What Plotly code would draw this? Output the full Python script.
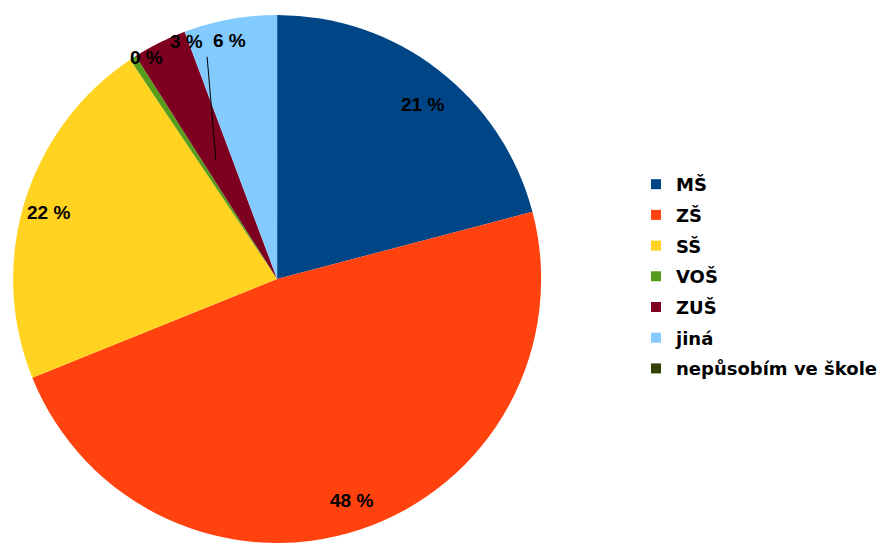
import math
import plotly.graph_objects as go

categories = ["MŠ", "ZŠ", "SŠ", "VOŠ", "ZUŠ", "jiná", "nepůsobím ve škole"]
values = [20.9, 48.0, 21.7, 0.4, 3.3, 5.7, 0.0]
colors = ["#004586", "#ff420e", "#ffd320", "#579d1c", "#7e0021", "#83caff", "#314004"]
pct_labels = ["21 %", "48 %", "22 %", "0 %", "3 %", "6 %", ""]

# label placement style: (radius factor, angle offset in degrees)
label_style = [(0.87, 3.0), (0.89, -1.0), (0.90, -0.8), (0.97, 2.8), (0.96, 6.0), (0.92, -0.4), (0.9, 0)]

W, H = 883, 543
ML, MR, MT, MB = 0, 0, 15, 0
PH = H - MT - MB
cx_px = 277
pie_center_px = cx_px + 3  # compensate renderer offset of pie centre
dom_w = 2 * pie_center_px / W
R = PH / 2
cy_px = MT + R

LABEL_FONT = "Liberation Sans, Arial"


def to_paper(px, py):
    return px / W, (H - MB - py) / PH


def polar(angle_deg, rf):
    a = math.radians(angle_deg)
    return cx_px + rf * R * math.sin(a), cy_px - rf * R * math.cos(a)


fig = go.Figure()
fig.add_trace(go.Pie(
    labels=categories, values=values, sort=False, direction="clockwise", rotation=0,
    marker=dict(colors=colors, line=dict(width=0)),
    textinfo="none", hoverinfo="label+percent", showlegend=False,
    domain=dict(x=[0, dom_w], y=[0, 1]),
))

total = sum(values)
cum = 0.0
mids = []
for v in values:
    mids.append((cum + v / 2) / total * 360)
    cum += v

for lab, mid, (rf, off) in zip(pct_labels, mids, label_style):
    if not lab:
        continue
    px, py = polar(mid + off, rf)
    x, y = to_paper(px, py)
    fig.add_annotation(x=x, y=y, xref="paper", yref="paper", text=lab, showarrow=False,
                       font=dict(family=LABEL_FONT, size=19, color="#000000", weight="bold"),
                       xanchor="center", yanchor="middle")

# leader line for ZUŠ label
zus = categories.index("ZUŠ")
x0p, y0p = polar(mids[zus] + 9.5, 0.88)
x1p, y1p = polar(mids[zus], 0.50)
x0, y0 = to_paper(x0p, y0p)
x1, y1 = to_paper(x1p, y1p)
fig.add_shape(type="line", xref="paper", yref="paper", x0=x0, y0=y0, x1=x1, y1=y1,
              line=dict(color="#000000", width=1))

# legend entries
for i, (c, col) in enumerate(zip(categories, colors)):
    fig.add_trace(go.Scatter(x=[None], y=[None], mode="markers", name=c, legendgroup=f"g{i}",
                             marker=dict(symbol="square", size=10, color=col)))

fig.update_layout(
    width=W, height=H,
    margin=dict(l=ML, r=MR, t=MT, b=MB),
    paper_bgcolor="white", plot_bgcolor="white",
    xaxis=dict(visible=False), yaxis=dict(visible=False),
    font=dict(family="Liberation Sans, Arial", size=16, color="#000000"),
    legend=dict(x=0.728, y=to_paper(0, 166)[1], xanchor="left", yanchor="top",
                font=dict(family="DejaVu Sans", size=18, color="#000000", weight="bold"),
                traceorder="grouped", tracegroupgap=4.3, itemwidth=30, bgcolor="rgba(0,0,0,0)"),
)

fig.write_html("out.html", config={"displayModeBar": False})
with open("out.html", "r", encoding="utf-8") as f:
    html = f.read()
html = html.replace("<head>", "<head><style>html,body{margin:0;padding:0;}</style>", 1)
with open("out.html", "w", encoding="utf-8") as f:
    f.write(html)
